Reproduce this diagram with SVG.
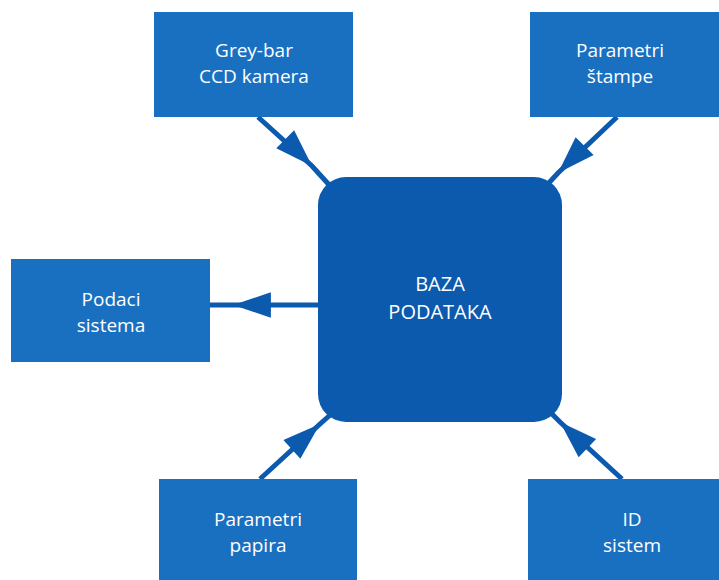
<svg xmlns="http://www.w3.org/2000/svg" width="719" height="580" viewBox="0 0 719 580">
<style>
.box{fill:#1a70c0}
.center{fill:#0c5aae}
.lbl{font-family:"Open Sans","Noto Sans",sans-serif;font-size:19px;fill:#ffffff;text-anchor:middle}
.clbl{font-family:"Open Sans","Noto Sans",sans-serif;font-size:20px;fill:#ffffff;text-anchor:middle}
.conn{fill:none;stroke:#0c5aae;stroke-width:5;marker-mid:url(#ah)}
</style>
<defs>
<marker id="ah" markerUnits="userSpaceOnUse" markerWidth="40" markerHeight="30" viewBox="-37 -13 38 26" refX="0" refY="0" orient="auto">
<path d="M0,0 L-36,-12 L-36,12 z" fill="#0c5aae"/>
</marker>
</defs>
<rect width="719" height="580" fill="#ffffff"/>
<g id="connectors">
<path class="conn" d="M258,117 L312,166 L332,188"/>
<path class="conn" d="M617,117 L558,173 L546,186"/>
<path class="conn" d="M320,305 L233,305 L210,305"/>
<path class="conn" d="M260,479 L320,424 L338,408"/>
<path class="conn" d="M622,479 L560,422 L548,410"/>
</g>
<g id="baza">
<rect class="center" x="318" y="177" width="244" height="245" rx="28"/>
<text class="clbl" x="440" y="291">BAZA</text>
<text class="clbl" x="440" y="319">PODATAKA</text>
</g>
<g id="greybar">
<rect class="box" x="154" y="12" width="199" height="105"/>
<text class="lbl" x="254" y="57">Grey-bar</text>
<text class="lbl" x="254" y="83">CCD kamera</text>
</g>
<g id="stampe">
<rect class="box" x="530" y="12" width="189" height="105"/>
<text class="lbl" x="620" y="57">Parametri</text>
<text class="lbl" x="620" y="83">štampe</text>
</g>
<g id="podaci">
<rect class="box" x="11" y="259" width="199" height="103"/>
<text class="lbl" x="111" y="306">Podaci</text>
<text class="lbl" x="111" y="332">sistema</text>
</g>
<g id="papira">
<rect class="box" x="159" y="479" width="198" height="101"/>
<text class="lbl" x="258" y="526">Parametri</text>
<text class="lbl" x="258" y="552">papira</text>
</g>
<g id="idsistem">
<rect class="box" x="528" y="479" width="191" height="101"/>
<text class="lbl" x="632" y="526">ID</text>
<text class="lbl" x="632" y="552">sistem</text>
</g>
</svg>
